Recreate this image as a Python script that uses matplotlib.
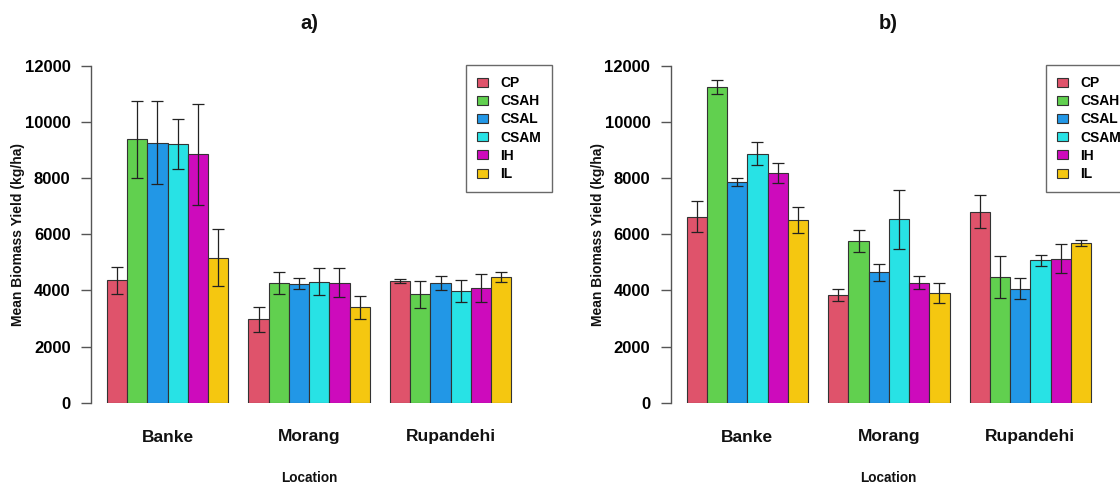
import matplotlib
matplotlib.use("Agg")
import matplotlib.pyplot as plt
import matplotlib.transforms as mtransforms
from matplotlib.patches import Patch

plt.rcParams['font.family'] = ['Liberation Sans', 'DejaVu Sans']
plt.rcParams['font.weight'] = 'bold'

locations = ["Banke", "Morang", "Rupandehi"]
treatments = ["CP", "CSAH", "CSAL", "CSAM", "IH", "IL"]
colors = ["#DF536B", "#61D04F", "#2297E6", "#28E2E5", "#CD0BBC", "#F5C710"]

# Panel a) means and errors per treatment across locations
a_mean = {
    "CP":   [4370, 2970, 4340],
    "CSAH": [9390, 4270, 3870],
    "CSAL": [9270, 4240, 4270],
    "CSAM": [9220, 4310, 3980],
    "IH":   [8860, 4270, 4100],
    "IL":   [5170, 3400, 4480],
}
a_err = {
    "CP":   [480, 440, 60],
    "CSAH": [1380, 400, 485],
    "CSAL": [1490, 200, 260],
    "CSAM": [890, 475, 385],
    "IH":   [1800, 520, 495],
    "IL":   [1010, 415, 195],
}
# Panel b)
b_mean = {
    "CP":   [6630, 3830, 6810],
    "CSAH": [11240, 5760, 4470],
    "CSAL": [7865, 4645, 4065],
    "CSAM": [8875, 6535, 5075],
    "IH":   [8190, 4280, 5130],
    "IL":   [6510, 3900, 5690],
}
b_err = {
    "CP":   [555, 220, 575],
    "CSAH": [255, 380, 755],
    "CSAL": [140, 300, 375],
    "CSAM": [410, 1040, 190],
    "IH":   [360, 225, 510],
    "IL":   [470, 350, 120],
}
yticks = [0, 2000, 4000, 6000, 8000, 10000, 12000]

W, H = 1120, 484
fig = plt.figure(figsize=(W / 100, H / 100), dpi=100)


def px_axes(left, top, width, height):
    return fig.add_axes([left / W, 1 - (top + height) / H, width / W, height / H])


def panel(left_px, means, errs, title, title_x, legend_x):
    unit = 20.22
    width_px = 21.6 * unit
    ax = px_axes(left_px, 66, width_px, 336.7)
    ax.set_xlim(0.2, 21.8)
    ax.set_ylim(0, 12000)
    ngroups = len(locations)
    nt = len(treatments)
    for j, t in enumerate(treatments):
        xs = [1.5 + g * (nt + 1) + j for g in range(ngroups)]
        ax.bar(xs, means[t], width=1.0, color=colors[j], edgecolor="#333333",
               linewidth=0.8, zorder=2)
        ax.errorbar(xs, means[t], yerr=errs[t], fmt="none", ecolor="#222222",
                    elinewidth=0.9, capsize=4.4, capthick=0.9, zorder=3)
    for s in ["top", "right", "bottom"]:
        ax.spines[s].set_visible(False)
    ax.spines["left"].set_bounds(0, 12000)
    ax.spines["left"].set_color("#555555")
    ax.spines["left"].set_linewidth(1.0)
    ax.set_yticks(yticks)
    ax.set_yticklabels([str(v) for v in yticks], fontsize=12, fontweight="bold")
    ax.tick_params(axis="y", length=7.5, width=1.0, color="#555555", pad=7)
    ax.set_xticks([])
    trans = mtransforms.blended_transform_factory(ax.transData, fig.transFigure)
    for g, loc in enumerate(locations):
        cx = 4 + g * (nt + 1)
        ax.text(cx, 1 - 437 / H, loc, transform=trans, ha="center", va="center",
                fontsize=12.5, fontweight="bold", color="#111111")
    axis_px = left_px
    fig.text((axis_px - 72.5) / W, 1 - 234 / H, "Mean Biomass Yield (kg/ha)",
             rotation=90, ha="center", va="center", fontsize=10, fontweight="bold",
             color="#111111")
    fig.text(title_x / W, 1 - 478 / H, "Location", ha="center", va="center",
             fontsize=9.8, fontweight="bold", color="#111111")
    fig.text(title_x / W, 1 - 23.5 / H, title, ha="center", va="center",
             fontsize=14.5, fontweight="bold", color="#111111")
    handles = [Patch(facecolor=c, edgecolor="#333333", linewidth=0.8) for c in colors]
    leg = fig.legend(handles, treatments, loc="upper left",
                     bbox_to_anchor=(legend_x / W, 1 - 65 / H),
                     frameon=True, fancybox=False, edgecolor="#444444",
                     prop={"family": "Liberation Sans", "weight": "bold", "size": 10},
                     handlelength=0.8, handleheight=0.62, handletextpad=0.9,
                     labelspacing=0.3, borderpad=0.8, borderaxespad=0.0)
    leg.get_frame().set_linewidth(1.0)
    return ax


panel(90.7, a_mean, a_err, "a)", 309, 465.7)
panel(670.5, b_mean, b_err, "b)", 888, 1045.7)

fig.savefig("out.png", dpi=100, facecolor="white")
